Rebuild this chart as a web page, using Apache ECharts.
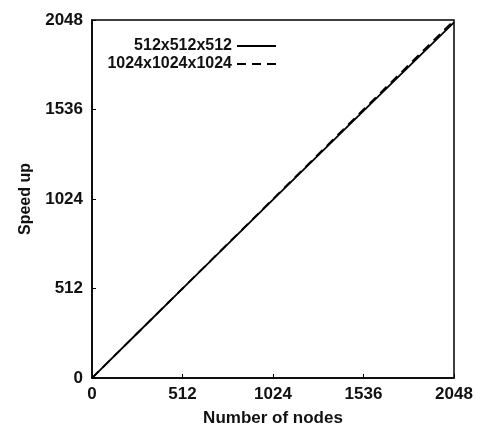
<!DOCTYPE html>
<html>
<head>
<meta charset="utf-8">
<script src="https://cdn.jsdelivr.net/npm/echarts@6/dist/echarts.min.js"></script>
<style>html,body{margin:0;padding:0;background:#fff}#c{width:477px;height:432px}</style>
</head>
<body>
<div id="c"></div>
<script>
var nodes = [1, 64, 128, 256, 512, 1024, 1536, 2048];
var speedup512 = [1, 64, 128, 256, 511, 1020, 1528, 2034];
var speedup1024 = [1, 64, 128, 256, 512, 1024, 1536, 2046];
var seriesNames = ['512x512x512', '1024x1024x1024'];
var ticks = [0, 512, 1024, 1536, 2048];

function pairs(xs, ys) { return xs.map(function (x, i) { return [x, ys[i]]; }); }

var font = 'Liberation Sans, Arial, sans-serif';
var legendText = { fontFamily: font, fontWeight: 'bold', fontSize: 16, color: '#111' };
var hiddenSymbol = { color: 'rgba(0,0,0,0)', borderColor: 'rgba(0,0,0,0)', borderWidth: 0 };
var chart = echarts.init(document.getElementById('c'), null, { renderer: 'canvas' });
chart.setOption({
  animation: false,
  backgroundColor: '#fff',
  grid: { left: 92, right: 23, top: 20, bottom: 51, show: true, borderColor: '#000', borderWidth: 1.5, backgroundColor: 'transparent' },
  legend: [
    { data: [seriesNames[0]], right: 200, top: 38, padding: 0, itemWidth: 39, itemHeight: 14, itemGap: 6, align: 'right',
      itemStyle: hiddenSymbol, textStyle: legendText },
    { data: [seriesNames[1]], right: 200, top: 56, padding: 0, itemWidth: 39, itemHeight: 14, itemGap: 6, align: 'right',
      itemStyle: hiddenSymbol, textStyle: legendText }
  ],
  xAxis: {
    type: 'value', min: 0, max: 2048, interval: 512,
    name: 'Number of nodes', nameLocation: 'middle', nameGap: 32,
    nameTextStyle: { fontFamily: font, fontWeight: 'bold', fontSize: 17, color: '#111' },
    axisLine: { show: true, lineStyle: { color: '#000', width: 1.5 } },
    axisTick: { show: true, inside: true, length: 4, lineStyle: { color: '#000', width: 1 } },
    axisLabel: { margin: 8, fontFamily: font, fontWeight: 'bold', fontSize: 17, color: '#111',
      formatter: function (v) { return ticks.indexOf(v) >= 0 ? String(v) : ''; } },
    splitLine: { show: false }
  },
  yAxis: {
    type: 'value', min: 0, max: 2048, interval: 512,
    name: 'Speed up', nameLocation: 'middle', nameGap: 58,
    nameTextStyle: { fontFamily: font, fontWeight: 'bold', fontSize: 16, color: '#111' },
    axisLine: { show: true, lineStyle: { color: '#000', width: 1.5 } },
    axisTick: { show: true, inside: true, length: 4, lineStyle: { color: '#000', width: 1 } },
    axisLabel: { margin: 9, fontFamily: font, fontWeight: 'bold', fontSize: 17, color: '#111',
      formatter: function (v) { return ticks.indexOf(v) >= 0 ? String(v) : ''; } },
    splitLine: { show: false }
  },
  series: [
    { name: seriesNames[0], type: 'line', data: pairs(nodes, speedup512), showSymbol: false, symbol: 'none',
      lineStyle: { color: '#000', width: 1.8, type: 'solid' }, itemStyle: { color: '#000' } },
    { name: seriesNames[1], type: 'line', data: pairs(nodes, speedup1024), showSymbol: false, symbol: 'none',
      lineStyle: { color: '#000', width: 1.8, type: [9, 6] }, itemStyle: { color: '#000' } }
  ]
});
</script>
</body>
</html>
